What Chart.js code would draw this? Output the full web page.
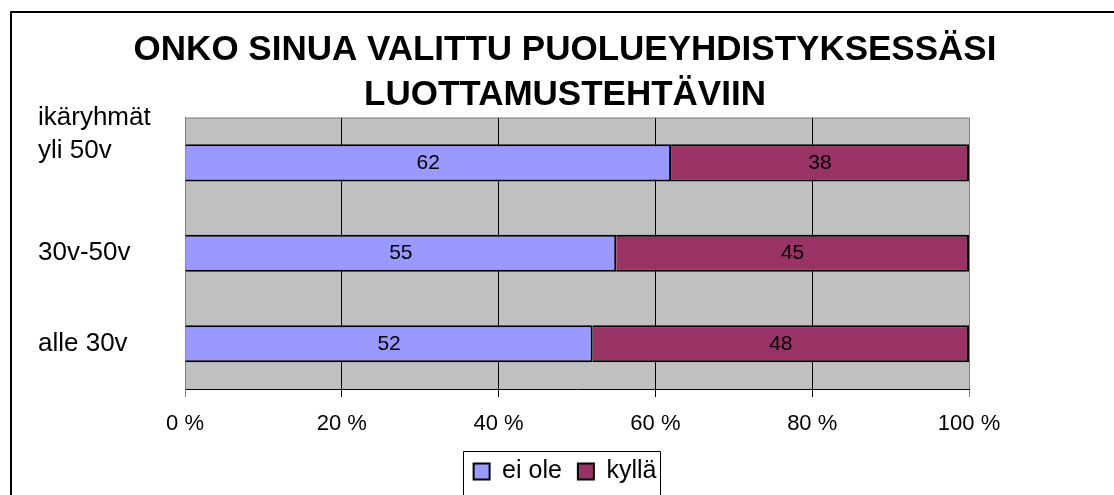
<!DOCTYPE html>
<html><head><meta charset="utf-8">
<script src="https://cdn.jsdelivr.net/npm/chart.js@4"></script>
<style>html,body{margin:0;padding:0;background:#fff;overflow:hidden}#wrap{width:1114px;height:495px;position:relative}</style>
</head><body><div id="wrap"><canvas id="c" width="1114" height="495"></canvas></div>
<script>
const titleLines = ['ONKO SINUA VALITTU PUOLUEYHDISTYKSESSÄSI', 'LUOTTAMUSTEHTÄVIIN'];
const axisTitle = 'ikäryhmät';
const categories = ['yli 50v', '30v-50v', 'alle 30v'];
const seriesNames = ['ei ole', 'kyllä'];
const eiOle = [62, 55, 52];
const kylla = [38, 45, 48];
const xTickStep = 20;
const xMin = 0, xMax = 100;

const FONT = '"Liberation Sans", Arial, Helvetica, sans-serif';
Chart.defaults.font.family = FONT;
Chart.defaults.color = '#000';

const framePlugin = {
  id: 'frame',
  beforeDraw(chart) {
    const {ctx, chartArea: a} = chart;
    ctx.save();
    ctx.fillStyle = '#fff';
    ctx.fillRect(0, 0, chart.width, chart.height);
    ctx.fillStyle = '#c0c0c0';
    ctx.fillRect(a.left, a.top, a.right - a.left, a.bottom - a.top);
    ctx.restore();
  },
  afterDatasetsDraw(chart) {
    const {ctx} = chart;
    ctx.save();
    ctx.fillStyle = '#000';
    ctx.font = '21px ' + FONT;
    ctx.textAlign = 'center';
    ctx.textBaseline = 'middle';
    chart.data.datasets.forEach((ds, i) => {
      chart.getDatasetMeta(i).data.forEach((el, j) => {
        const x = (el.x + el.base) / 2;
        ctx.fillText(String(ds.data[j]), x, el.y);
      });
    });
    ctx.restore();
  },
  afterDraw(chart) {
    const {ctx, chartArea: a} = chart;
    ctx.save();
    ctx.strokeStyle = '#808080';
    ctx.lineWidth = 1;
    ctx.beginPath();
    ctx.moveTo(a.left, a.top + 0.5);
    ctx.lineTo(a.right, a.top + 0.5);
    ctx.stroke();
    // outer frame (open to right/bottom like the source crop)
    ctx.strokeStyle = '#000';
    ctx.lineWidth = 2;
    ctx.beginPath();
    ctx.moveTo(11, chart.height + 5);
    ctx.lineTo(11, 12);
    ctx.lineTo(chart.width + 5, 12);
    ctx.stroke();
    // axis title
    ctx.fillStyle = '#000';
    ctx.font = '26px ' + FONT;
    ctx.textAlign = 'left';
    ctx.textBaseline = 'alphabetic';
    ctx.fillText(axisTitle, chart.scales.y.left, a.top + 7);
    // legend frame
    const hb = chart.legend && chart.legend.legendHitBoxes;
    if (hb && hb.length) {
      const l = Math.round(hb[0].left - 11) + 0.5;
      const last = hb[hb.length - 1];
      const r = Math.round(last.left + last.width + 4) + 0.5;
      const t = Math.round(hb[0].top + hb[0].height / 2 - 21) + 0.5;
      ctx.strokeStyle = '#000';
      ctx.lineWidth = 1;
      ctx.beginPath();
      ctx.moveTo(l, chart.height + 5);
      ctx.lineTo(l, t);
      ctx.lineTo(r, t);
      ctx.lineTo(r, chart.height + 5);
      ctx.stroke();
    }
    ctx.restore();
  }
};

new Chart(document.getElementById('c'), {
  type: 'bar',
  data: {
    labels: categories,
    datasets: [
      {label: seriesNames[0], data: eiOle, backgroundColor: '#9999ff', borderColor: '#000', borderWidth: 2,
       barPercentage: 0.41, categoryPercentage: 1},
      {label: seriesNames[1], data: kylla, backgroundColor: '#993366', borderColor: '#000', borderWidth: 2,
       barPercentage: 0.41, categoryPercentage: 1}
    ]
  },
  options: {
    indexAxis: 'y',
    responsive: false,
    animation: false,
    devicePixelRatio: 1,
    layout: {padding: {left: 38, right: 22, top: 0, bottom: 1}},
    plugins: {
      title: {display: true, text: titleLines, color: '#000',
        font: {size: 35, weight: 'bold', lineHeight: 1.28}, padding: {top: 28, bottom: 0}},
      legend: {position: 'bottom',
        labels: {color: '#000', font: {size: 25}, boxWidth: 16, boxHeight: 16, padding: 16}},
      tooltip: {enabled: false}
    },
    scales: {
      x: {
        stacked: true, min: xMin, max: xMax,
        ticks: {stepSize: xTickStep, color: '#000', font: {size: 22}, padding: 14, maxRotation: 0,
          callback: v => v + ' %'},
        grid: {color: c => (c.tick && (c.tick.value === xMin || c.tick.value === xMax)) ? '#808080' : '#000',
          lineWidth: 1, tickLength: 8},
        border: {color: '#000', width: 1},
        afterFit(s) { s.paddingRight = 145; s.height = 54; }
      },
      y: {
        stacked: true,
        ticks: {crossAlign: 'far', color: '#000', font: {size: 26, lineHeight: 0.92},
          callback: (v, i) => i === 0 ? [categories[v], ''] : categories[v]},
        grid: {display: false},
        border: {display: true, color: '#808080', width: 1},
        afterFit(s) { s.width = 147; }
      }
    }
  },
  plugins: [framePlugin]
});
</script>
</body></html>
